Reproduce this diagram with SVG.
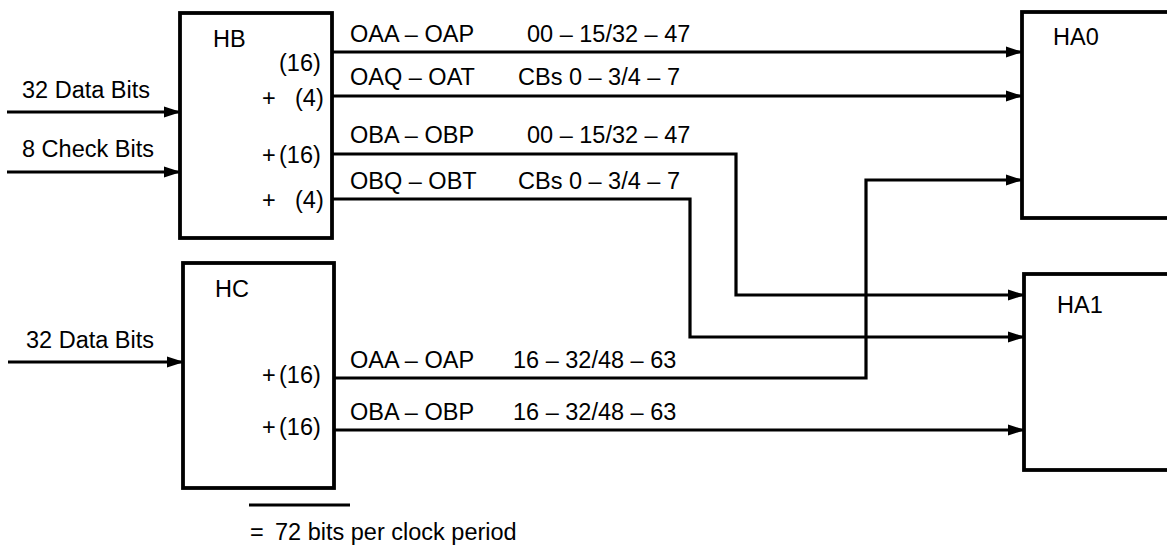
<svg xmlns="http://www.w3.org/2000/svg" width="1167" height="547" viewBox="0 0 1167 547">
<style>
text{font-family:"Liberation Sans",Arial,sans-serif;font-size:23.5px;fill:#000}
.box{fill:#fff;stroke:#000;stroke-width:3.8}
.w{fill:none;stroke:#000;stroke-width:3.2}
.a{marker-end:url(#arr)}
</style>
<defs>
<marker id="arr" markerUnits="userSpaceOnUse" markerWidth="18" markerHeight="14" refX="16" refY="6" orient="auto">
<path d="M0,0.5 L17,6 L0,11.5 z" fill="#000"/>
</marker>
</defs>
<rect width="1167" height="547" fill="#fff"/>
<g id="connectors">
<path class="w a" d="M7,112 H180"/>
<path class="w a" d="M7,172 H180"/>
<path class="w a" d="M8,362 H183"/>
<path class="w a" d="M332,52 H1022"/>
<path class="w a" d="M332,96 H1022"/>
<path class="w a" d="M332,154 H736 V295 H1024"/>
<path class="w a" d="M332,199 H690 V337 H1024"/>
<path class="w a" d="M334,378 H866 V180 H1022"/>
<path class="w a" d="M334,430 H1024"/>
<text x="350" y="42">OAA – OAP</text>
<text x="527" y="42">00 – 15/32 – 47</text>
<text x="350" y="85">OAQ – OAT</text>
<text x="518" y="85">CBs 0 – 3/4 – 7</text>
<text x="350" y="143">OBA – OBP</text>
<text x="527" y="143">00 – 15/32 – 47</text>
<text x="350" y="189">OBQ – OBT</text>
<text x="518" y="189">CBs 0 – 3/4 – 7</text>
<text x="350" y="368">OAA – OAP</text>
<text x="513" y="368">16 – 32/48 – 63</text>
<text x="350" y="420">OBA – OBP</text>
<text x="513" y="420">16 – 32/48 – 63</text>
<text x="22" y="98">32 Data Bits</text>
<text x="22" y="157">8 Check Bits</text>
<text x="26" y="348">32 Data Bits</text>
</g>
<g id="HB">
<rect class="box" x="180" y="13" width="152" height="225"/>
<text x="213" y="47">HB</text>
<text x="279" y="71">(16)</text>
<text x="262" y="106">+</text>
<text x="295" y="106">(4)</text>
<text x="262" y="163">+</text>
<text x="279" y="163">(16)</text>
<text x="262" y="208">+</text>
<text x="295" y="208">(4)</text>
</g>
<g id="HC">
<rect class="box" x="183" y="263" width="151" height="225"/>
<text x="215" y="297">HC</text>
<text x="262" y="383">+</text>
<text x="279" y="383">(16)</text>
<text x="262" y="435">+</text>
<text x="279" y="435">(16)</text>
</g>
<g id="HA0">
<rect class="box" x="1022" y="12" width="160" height="206"/>
<text x="1053" y="45">HA0</text>
</g>
<g id="HA1">
<rect class="box" x="1024" y="274" width="160" height="196"/>
<text x="1057" y="313">HA1</text>
</g>
<g id="total">
<path class="w" d="M249,505 H350" stroke-width="2.5"/>
<text x="250" y="540">=</text>
<text x="275" y="540">72 bits per clock period</text>
</g>
</svg>
